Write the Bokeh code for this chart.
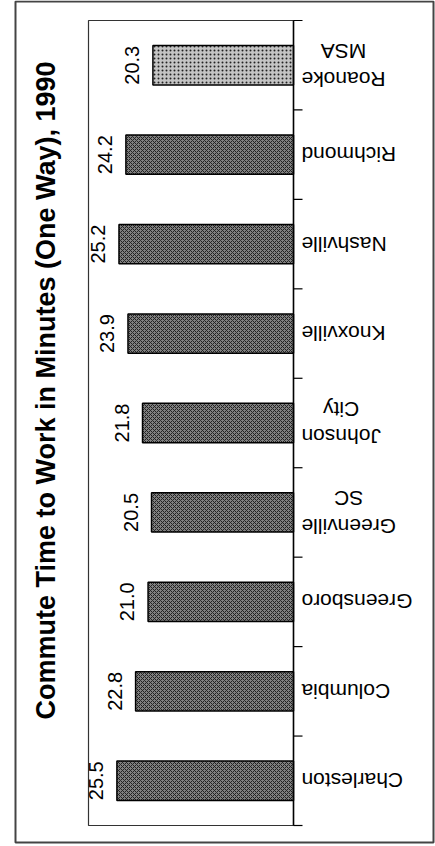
import math
from bokeh.plotting import figure
from bokeh.models import Range1d, ColumnDataSource, Text
from bokeh.core.properties import value
from bokeh.embed import file_html
from bokeh.resources import INLINE

# ---- data ----
cities = ["Charleston", "Columbia", "Greensboro", "Greenville\nSC", "Johnson\nCity",
          "Knoxville", "Nashville", "Richmond", "Roanoke\nMSA"]
minutes = [25.5, 22.8, 21.0, 20.5, 21.8, 23.9, 25.2, 24.2, 20.3]
title_text = "Commute Time to Work in Minutes (One Way), 1990"
value_max = 29.6

FONT = "Liberation Sans"
W, H = 435, 846

# ---- layout (canvas pixels) ----
BASE_X = 293          # canvas x of the value 0 (category axis)
PLOT_LEFT = 88        # canvas x of the left edge of the plot box
PLOT_TOP, PLOT_BOTTOM = 20, 825
n = len(cities)
KX = (BASE_X - PLOT_LEFT) / value_max      # px per minute
KY = (PLOT_BOTTOM - PLOT_TOP) / n          # px per category


def dx(px):
    return (BASE_X - px) / KX


def dy(py):
    return (PLOT_BOTTOM - py) / KY


centers = [i + 0.5 for i in range(n)]
boundaries = [float(i) for i in range(n + 1)]
fills = ["#c4c4c4" if c.startswith("Roanoke") else "#808080" for c in cities]
hatches = ["dot" if c.startswith("Roanoke") else "diagonal_cross" for c in cities]

src = ColumnDataSource(dict(y=centers, v=minutes, fill=fills, hatch=hatches,
                            lab=[f"{m:.1f}" for m in minutes], zero=[0] * n, name=cities))

p = figure(width=W, height=H, output_backend="svg", toolbar_location=None,
           x_range=Range1d(dx(0), dx(W)), y_range=Range1d(dy(H), dy(0)),
           x_axis_location=None, y_axis_location=None, min_border=0)
p.xgrid.visible = False
p.ygrid.visible = False
p.outline_line_color = None
p.background_fill_color = "white"
p.border_fill_color = "white"

# outer page border
p.quad(left=dx(15), right=dx(433), bottom=dy(842), top=dy(1),
       fill_color=None, line_color="#444444", line_width=2)

# plot box (left, top, bottom sides)
p.quad(left=value_max, right=0, bottom=0, top=n,
       fill_color=None, line_color="#333333", line_width=1.2)

# bars
p.hbar(y="y", left=0, right="v", height=0.44, source=src,
       fill_color="fill", line_color="black", line_width=1.5,
       hatch_pattern="hatch", hatch_color="#222222", hatch_scale=4, hatch_weight=1)

# value labels
p.text(x="v", y="y", text="lab", source=src, angle=math.pi / 2,
       text_align="center", text_baseline="bottom", x_offset=-14,
       text_font=value(FONT), text_font_size="20px", text_color="black")

# category axis line and boundary ticks
p.segment(x0=[0], y0=[0], x1=[0], y1=[n], line_color="black", line_width=1.5)
p.segment(x0=[0] * (n + 1), y0=boundaries, x1=[-9 / KX] * (n + 1), y1=boundaries,
          line_color="black", line_width=1.2)

# category labels (upside down, as in the scanned page)
kw = dict(x="zero", y="y", text="name", source=src, angle=math.pi, x_offset=8,
          text_font=value(FONT), text_font_size="21px", text_color="black",
          text_baseline="middle")
if "anchor" in Text.properties():
    kw.update(anchor="center_right", text_align="center")
else:
    kw.update(text_align="right")
p.text(**kw)

# title, reading bottom to top
p.text(x=[dx(45)], y=[dy(390)], text=[title_text], angle=math.pi / 2,
       text_align="center", text_baseline="middle",
       text_font=value(FONT), text_font_size="27px", text_font_style="bold",
       text_color="black")

open("out.html", "w").write(file_html(p, INLINE))
